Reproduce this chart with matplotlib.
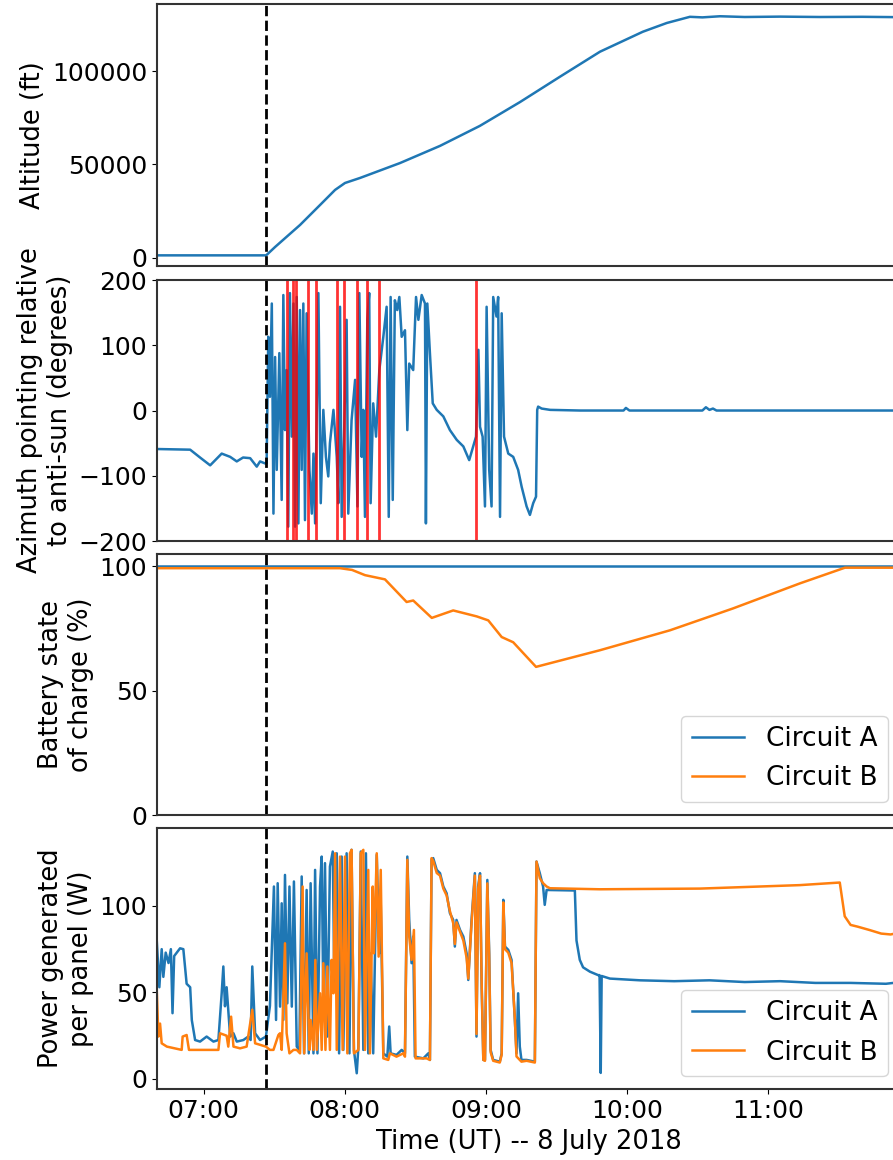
import numpy as np
import pandas as pd
import matplotlib
matplotlib.use('Agg')
import matplotlib.pyplot as plt
import matplotlib.dates as mdates

# all times are minutes after 07:00 UT, 8 July 2018
launch_t = 26.5
t_start, t_end = -19.8, 296.4

# altitude (ft)
alt_t = [-19.8, 26.6, 30.4, 41.0, 49.5, 55.9, 60.1, 66.5, 83.5, 100.5, 117.4, 134.5,
         151.5, 168.5, 186.7, 196.9, 206.7, 212.0, 219.5, 230.0, 245.0, 262.0, 280.0, 296.4]
alt_ft = [1200, 1200, 5700, 17500, 28200, 36300, 40000, 42700, 50700, 59900, 70600, 83400,
          97000, 110400, 121100, 125800, 129100, 128800, 129400, 129000, 129200, 129000, 129100, 128900]

# azimuth relative to anti-sun (deg)
az_t = [-19.8, -5.7, -1.5, 2.8, 7.7, 11.3, 14.1, 16.8, 19.8, 22.6, 24.0, 26.1,
        26.8, 27.5, 28.2, 29.0, 29.7, 30.4, 31.1, 32.2, 33.2, 33.9, 34.6, 35.3, 36.0, 36.7,
        37.5, 38.2, 38.9, 39.6, 40.3, 41.0, 41.7, 42.4, 43.1, 43.8, 45.0, 46.0, 46.7, 47.4,
        48.1, 48.8, 49.8, 50.9, 52.0, 53.0, 53.7, 55.2, 56.6, 57.3, 58.0, 58.7, 59.7, 60.8,
        61.5, 62.9, 64.4, 65.4, 66.2, 67.2, 67.9, 68.6, 69.6, 70.4, 71.0, 72.1, 73.3, 74.7,
        76.4, 77.8, 78.7, 79.5, 80.4, 81.3, 82.3, 83.2, 84.2, 85.6, 86.6, 87.4, 89.1, 90.3,
        91.3, 92.7, 94.1, 94.5, 95.1, 96.2, 97.4, 99.1, 101.9, 104.7, 107.6, 110.4, 112.9,
        114.6, 115.8, 116.8, 117.5, 118.6, 119.6, 120.3, 121.4, 122.4, 123.1, 124.5, 125.2,
        126.0, 126.7, 127.7, 129.5, 131.6, 133.7, 135.2, 137.3, 138.7, 140.1, 141.3, 141.8,
        142.2, 143.7, 147.3, 160.0, 178.5, 179.5, 181.0, 212.0, 213.5, 215.0, 216.5, 218.0,
        240.0, 270.0, 296.4]
az_deg = [-59, -60, -72, -84, -66, -71, -78, -72, -73, -86, -78, -81,
          -81, 113, 21, 164, -158, 82, -91, 88, -137, 177, -30, 62, -178, 180,
          -40, 164, -178, 174, -173, 154, -91, 164, -168, 149, -91, -158, -66, -173,
          -4, 180, -142, 1, -71, -101, -50, 1, -71, -142, 159, -163, -40, 139,
          -158, -15, 47, -147, 180, -71, 1, -163, 139, 180, -142, 11, -40, 62,
          113, 159, -163, 174, -137, 169, 154, 174, 113, 123, -30, 72, 62, 174,
          139, 177, 164, -173, 164, 88, 11, 1, -9, -30, -45, -55, -76,
          -55, -40, 93, -25, -40, -147, 159, -91, -147, 174, 144, 174,
          -163, 149, -40, -66, -71, -91, -117, -147, -160, -142, -132, 1,
          6, 3, 1, 0, 0, 4, 0, 0, 5, 1, 3, 0,
          0, 0, 0]

# times flagged with red markers
flag_t = [35.4, 37.9, 39.3, 44.5, 47.8, 56.9, 59.8, 65.1, 69.6, 74.6, 115.8]

# battery state of charge (%)
soc_t = [-19.8, 296.4]
soc_a = [100, 100]
socb_t = [-19.8, 58.0, 63.1, 68.6, 77.1, 86.3, 89.1, 97.0, 106.1, 116.1, 121.0, 126.7,
          131.6, 141.3, 168.5, 198.2, 225.0, 253.5, 272.6, 296.4]
soc_b = [99.3, 99.3, 98.6, 96.5, 94.8, 85.7, 86.3, 79.3, 82.3, 79.9, 78.3, 71.6,
         69.5, 59.6, 66.3, 74.3, 83.1, 93.2, 99.5, 99.5]

# power per panel (W)
pa_t = [-19.9, -18.8, -17.8, -17.1, -16.1, -14.9, -13.9, -13.2, -12.5, -11.4, -10.0, -8.6,
        -7.2, -5.7, -5.0, -3.6, -1.5, 1.3, 4.2, 6.3, 7.7, 8.4, 9.1, 9.8, 11.3, 12.7, 14.1,
        16.9, 19.0, 20.0, 20.7, 21.9, 24.0, 26.5,
        28.2, 29.9, 30.8, 31.5, 32.5, 33.2, 33.9, 34.6, 35.6, 36.5, 37.5, 38.4, 39.6, 40.7,
        41.7, 42.7, 43.8, 44.7, 45.5, 46.7, 47.4, 48.4, 49.5, 50.2, 50.9, 51.6, 52.6, 53.7,
        54.9, 55.6, 56.6, 57.6, 58.7, 59.4, 60.8, 62.0, 62.9, 63.9, 65.1, 65.8, 66.8, 67.9,
        69.0, 70.0, 71.0, 72.1, 73.6, 74.7, 75.3, 76.4, 78.1, 78.9, 79.5, 82.0, 84.2, 85.6,
        86.6, 87.4, 88.4, 89.1, 89.8, 93.4, 95.5, 96.2, 96.9, 97.6, 99.1, 100.5, 101.9,
        103.3, 104.7, 106.1, 106.8, 107.5, 109.0, 110.4, 111.8, 112.5, 113.9, 115.3, 116.0,
        116.7, 117.5, 118.2, 118.9, 119.6, 120.6, 121.4, 122.0, 123.1, 125.9, 126.7, 127.4,
        128.1, 129.5, 130.9, 132.3, 133.0, 133.7, 134.4, 135.1, 137.3, 140.8, 141.5, 142.9,
        144.3, 145.0, 145.8, 157.8, 158.5, 159.9, 161.3, 164.2, 167.7, 168.3, 168.8, 169.2,
        172.7, 185.5, 200.0, 215.0, 230.0, 245.0, 260.0, 275.0, 290.0, 296.4]
pa_w = [80, 53, 75, 59, 73, 67, 75, 38, 71, 73, 75.5, 75,
        55, 53, 34, 22.5, 21.6, 24.5, 21.6, 22.5, 49.5, 65, 42, 53, 24.5, 26.4, 21.6,
        22.5, 24.5, 22.5, 65, 26.4, 22.5, 24.5,
        42.2, 111.2, 34.1, 113.1, 41.8, 101.5, 34.1, 117.9, 43.7, 111.2, 41.8, 114.1, 18.7, 16.8,
        117.0, 14.8, 109.2, 14.8, 113.1, 14.8, 120.8, 14.8, 111.2, 128.5, 43.7, 124.7, 24.5, 122.7,
        131.4, 53.4, 130.4, 14.8, 128.5, 16.8, 130.4, 14.8, 132.4, 16.8, 3.3, 18.7, 131.4, 16.8,
        130.4, 14.8, 72.6, 14.8, 129.5, 72.6, 101.5, 14.8, 12.9, 30.3, 14.8, 13.9, 16.8, 14.8,
        128.5, 91.9, 66.9, 82.3, 12.9, 11.9, 14.8, 11.0, 126.6, 127.6, 120.8, 118.9, 111.2,
        107.3, 95.8, 91.9, 76.5, 91.9, 86.1, 82.3, 72.6, 57.2, 91.9, 118.9, 24.5,
        111.2, 118.9, 53.4, 11.0, 11.0, 115.0, 72.6, 16.8, 11.0, 10.0, 14.8, 103.5,
        76.5, 74.6, 68.8, 34.1, 14.8, 49.5, 18.7, 11.0, 11.0, 10.0, 125.6, 118.9,
        111.2, 100.6, 109.2, 108.9, 80.0, 68.8, 64.5, 62.0, 60.0, 60.0, 3.5, 59.5,
        58.0, 57.0, 56.5, 57.0, 56.0, 56.5, 55.5, 55.5, 55.0, 56.0]

pb_t = [-19.9, -19.2, -18.5, -17.8, -15.6, -9.3, -8.9, -7.2, -6.2, 6.3, 7.0, 9.8, 10.5,
        11.7, 12.7, 15.5, 18.3, 20.7, 21.9, 26.5,
        28.2, 29.7, 31.8, 32.5, 33.2, 34.6, 35.3, 36.5, 38.2, 39.6, 41.0, 42.1, 42.8, 43.8,
        45.0, 45.5, 46.7, 47.5, 48.1, 49.5, 50.2, 50.9, 51.8, 52.6, 53.7, 54.4, 55.2, 55.9,
        56.6, 58.0, 59.1, 60.1, 61.1, 62.2, 62.9, 63.9, 65.8, 66.8, 67.9, 68.6, 70.0, 70.7,
        71.9, 72.4, 73.6, 74.4, 75.3, 76.4, 78.5, 79.2, 82.0, 84.9, 85.6, 86.6, 87.4, 88.4,
        89.4, 90.1, 94.8, 96.2, 96.9, 97.6, 99.1, 100.5, 101.9, 103.3, 104.7, 106.1, 106.8,
        107.5, 109.0, 110.4, 111.8, 112.5, 113.9, 115.3, 116.0, 116.7, 117.5, 118.2, 118.9,
        119.6, 120.6, 121.4, 122.0, 123.1, 125.9, 126.7, 127.4, 128.1, 129.5, 130.9, 132.3,
        133.0, 135.1, 137.3, 140.8, 141.5, 142.9, 144.3, 145.8, 147.2, 168.4, 211.0, 253.4,
        270.4, 272.5, 275.0, 278.0, 283.2, 288.0, 292.0, 296.4]
pb_w = [51.4, 24.5, 32, 20.6, 18.7, 16.8, 24.5, 25.4, 16.8, 16.8, 26.4, 25, 18.7,
        36, 18.7, 17.7, 18.7, 40, 20.6, 18.7,
        16.8, 16.8, 25.4, 26.4, 16.8, 78.4, 26.4, 14.8, 16.8, 16.8, 14.8, 111.2, 14.8, 72.6,
        16.8, 34.1, 16.8, 68.8, 16.8, 49.5, 16.8, 66.9, 16.8, 65.0, 16.8, 68.8, 49.5, 130.4,
        16.8, 128.5, 16.8, 128.5, 14.8, 130.4, 132.4, 14.8, 16.8, 130.4, 132.4, 16.8, 120.8, 14.8,
        111.2, 72.6, 130.4, 70.7, 120.8, 11.9, 11.0, 14.8, 12.9, 14.8, 12.9, 126.6, 82.3, 68.8,
        86.1, 11.9, 11.9, 11.0, 127.6, 126.0, 119.0, 117.5, 110.0, 106.0, 97.0, 90.0, 78.0,
        90.5, 85.0, 80.0, 70.0, 58.0, 90.0, 117.5, 26.0, 110.0, 117.5, 55.0, 11.0,
        10.5, 113.0, 70.0, 15.5, 10.5, 9.5, 14.0, 102.0, 75.0, 73.0, 67.0, 35.0,
        13.0, 10.0, 10.5, 9.5, 125.6, 116.0, 113.1, 111.2, 110.2, 109.6, 110.0, 112.0,
        113.5, 94.0, 89.0, 88.0, 86.0, 84.0, 83.5, 84.7]

t0 = pd.Timestamp('2018-07-08 07:00')


def ut(minutes):
    return (t0 + pd.to_timedelta(np.asarray(minutes, dtype=float), unit='min')).to_numpy()


plt.rcParams['font.family'] = 'DejaVu Sans'
plt.rcParams['font.size'] = 18.5
plt.rcParams['xtick.labelsize'] = 18
plt.rcParams['ytick.labelsize'] = 18
plt.rcParams['axes.edgecolor'] = '#333333'
plt.rcParams['axes.linewidth'] = 1.5

fig = plt.figure(figsize=(8.93, 11.6), dpi=100)
left, width = 0.1758, 0.8331
ax1 = fig.add_axes([left, 0.7707, width, 0.2259])
ax2 = fig.add_axes([left, 0.5336, width, 0.2250])
ax3 = fig.add_axes([left, 0.2974, width, 0.2250])
ax4 = fig.add_axes([left, 0.0609, width, 0.2253])
axes = [ax1, ax2, ax3, ax4]

ax1.plot(ut(alt_t), alt_ft, color='tab:blue', lw=1.8)
ax1.set_ylim(-4500, 136000)
ax1.set_yticks([0, 50000, 100000])
ax1.set_ylabel('Altitude (ft)')

ax2.plot(ut(az_t), az_deg, color='tab:blue', lw=1.8)
for ft in flag_t:
    ax2.axvline(ut([ft])[0], color='red', lw=2, alpha=0.8)
ax2.set_ylim(-200, 200)
ax2.set_yticks([-200, -100, 0, 100, 200])
ax2.set_ylabel('Azimuth pointing relative\nto anti-sun (degrees)')

ax3.plot(ut(soc_t), soc_a, color='tab:blue', lw=1.8, label='Circuit A')
ax3.plot(ut(socb_t), soc_b, color='tab:orange', lw=1.8, label='Circuit B')
ax3.set_ylim(0, 105)
ax3.set_yticks([0, 50, 100])
ax3.set_ylabel('Battery state\nof charge (%)')
ax3.legend(loc='lower right', fontsize=19)

ax4.plot(ut(pa_t), pa_w, color='tab:blue', lw=1.8, label='Circuit A')
ax4.plot(ut(pb_t), pb_w, color='tab:orange', lw=1.8, label='Circuit B')
ax4.set_ylim(-6, 145)
ax4.set_yticks([0, 50, 100])
ax4.set_ylabel('Power generated\nper panel (W)')
ax4.legend(loc='lower right', fontsize=19)

for ax in axes:
    ax.axvline(ut([launch_t])[0], color='black', ls='--', lw=2)
    ax.set_xlim(ut([t_start])[0], ut([t_end])[0])
    ax.xaxis.set_major_locator(mdates.HourLocator())
    ax.xaxis.set_major_formatter(mdates.DateFormatter('%H:%M'))
for ax in axes[:3]:
    ax.tick_params(axis='x', bottom=False, labelbottom=False)
ax4.set_xlabel('Time (UT) -- 8 July 2018')

fig.savefig('out.png', dpi=100)
